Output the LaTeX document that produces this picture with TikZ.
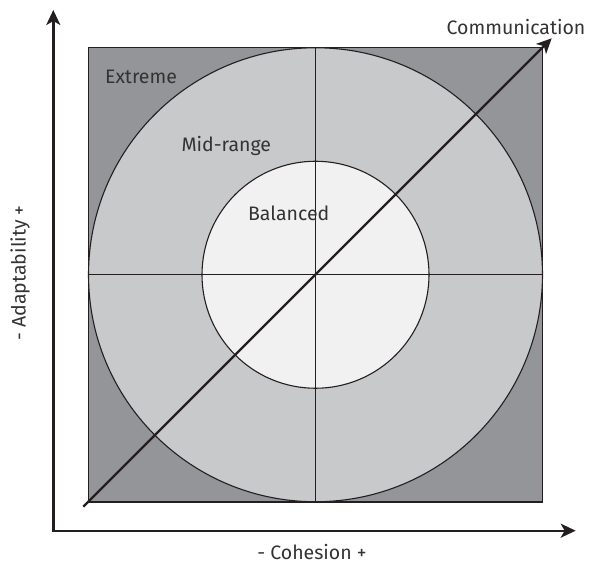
\documentclass[tikz,border=0pt]{standalone}
\usepackage{fontspec}
\setmainfont{Fira Sans}
\usetikzlibrary{arrows.meta}
\definecolor{extremegray}{HTML}{939598}
\definecolor{midgray}{HTML}{C8C9CB}
\definecolor{lightgray2}{HTML}{F1F1F2}
\definecolor{inkline}{HTML}{231F20}
\definecolor{inktext}{HTML}{333333}
\begin{document}
\begin{tikzpicture}[x=1pt,y=1pt,
  zone/.style={draw=inkline, line width=1.1pt, inner sep=0pt},
  gridline/.style={draw=inkline, line width=1.1pt},
  axisline/.style={draw=inkline, line width=2.4pt, -{Stealth[length=15pt,width=14pt,inset=4pt]}},
  lbl/.style={text=inktext, font=\fontsize{19.5}{23}\selectfont, inner sep=0pt}]
\useasboundingbox (0,0) rectangle (590,566);
% zones
\node[zone, rectangle, minimum size=454pt, fill=extremegray, line width=1.5pt] (sq) at (315.5,291.25) {};
\node[zone, circle, minimum size=454pt, fill=midgray] (mid) at (sq.center) {};
\node[zone, circle, minimum size=227pt, fill=lightgray2] (bal) at (sq.center) {};
% grid
\draw[gridline] (sq.west) -- (sq.east);
\draw[gridline] (sq.north) -- (sq.south);
% axes
\coordinate (orig) at (53.3,35.3);
\coordinate (ytip) at (53.3,556);
\coordinate (xtip) at (575.7,35.3);
\coordinate (dstart) at (83.3,59.3);
\coordinate (dtip) at (551.7,527.7);
\draw[axisline] ([xshift=-1.2pt]orig) -- (xtip);
\draw[axisline] ([yshift=-1.2pt]orig) -- (ytip);
\draw[axisline] (dstart) -- (dtip);
% labels
\node[lbl] (ext) at (141,489) {Extreme};
\node[lbl] (mr) at (226.3,420) {Mid-range};
\node[lbl] (bl) at (288.7,353) {Balanced};
\node[lbl] (com) at (516,539) {Communication};
\node[lbl] (coh) at (312,14) {- Cohesion +};
\node[lbl, rotate=90] (ada) at (20,293) {- Adaptability +};
\end{tikzpicture}
\end{document}
